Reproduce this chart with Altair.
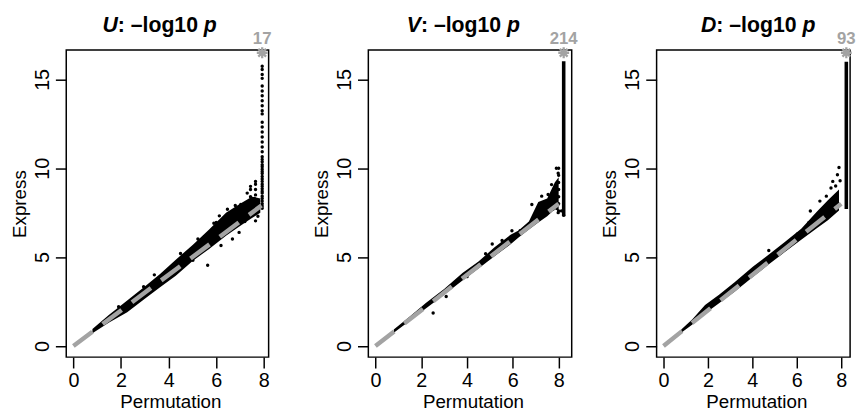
import altair as alt
import pandas as pd

FONT = "Liberation Sans"
GREY = "#a3a3a3"

PANELS = ["U", "V", "D"]
COUNTS = [17, 214, 93]
STAR_X = [7.93, 8.22, 8.23]
STAR_Y = [16.5, 16.5, 16.5]
DIAG_END = [7.9, 8.0, 8.0]

X_TICKS = [0, 2, 4, 6, 8]
Y_TICKS = [0, 5, 10, 15]

# dense core of each point cloud: lower / upper envelope
U_BAND_X = [0.8, 1.5, 2.26, 3.0, 3.64, 4.3, 5.02, 5.7, 6.41, 7.0, 7.5, 7.85]
U_BAND_LO = [0.72, 1.32, 1.9, 2.65, 3.3, 3.95, 4.8, 5.45, 6.2, 6.75, 7.2, 7.5]
U_BAND_HI = [0.95, 1.75, 2.55, 3.35, 4.05, 4.85, 5.7, 6.55, 7.5, 8.0, 8.4, 8.3]

V_BAND_X = [0.8, 1.5, 2.2, 3.0, 3.8, 4.5, 5.2, 5.9, 6.25, 6.7, 7.11, 7.5, 7.83, 8.0]
V_BAND_LO = [0.74, 1.42, 2.1, 2.88, 3.68, 4.36, 5.05, 5.72, 6.1, 6.55, 6.94, 7.3, 7.69, 7.6]
V_BAND_HI = [0.92, 1.65, 2.42, 3.2, 4.1, 4.75, 5.55, 6.25, 6.5, 7.0, 8.1, 8.3, 9.2, 9.5]

D_BAND_X = [0.8, 1.3, 1.87, 2.5, 3.2, 4.02, 4.7, 5.46, 6.2, 6.9, 7.4, 7.9]
D_BAND_LO = [0.74, 1.2, 1.82, 2.4, 3.05, 3.88, 4.55, 5.28, 5.98, 6.62, 7.08, 7.62]
D_BAND_HI = [0.93, 1.5, 2.3, 2.88, 3.58, 4.45, 5.1, 5.85, 6.6, 7.55, 8.2, 8.8]

# scattered points around the core
U_PX = [5.64, 7.44, 7.65, 7.03, 6.96, 7.65, 6.47, 6.13, 5.23, 2.95, 2.46, 3.92, 6.2,
        6.68, 5.02, 7.3, 7.6, 6.8, 4.5, 5.9, 3.4, 1.9, 7.2, 7.75, 6.0,
        7.65, 7.65, 7.65, 7.65, 7.65, 7.44, 7.44, 7.44]
U_PY = [4.54, 8.98, 9.26, 7.96, 6.39, 7.04, 7.69, 7.32, 6.02, 3.33, 2.6, 3.8, 5.65,
        6.02, 4.82, 8.6, 8.3, 7.9, 5.2, 6.9, 4.0, 2.2, 7.0, 7.3, 6.95,
        7.9, 8.2, 8.5, 8.8, 9.1, 8.0, 8.4, 8.8]
# vertical stack of the U panel at the permutation limit
U_COL_X = 7.93
U_COL_Y = [15.74, 15.56, 15.28, 15.06, 14.63, 14.35, 14.08, 13.8, 13.52, 13.24, 13.06,
           12.59, 12.32, 12.04, 11.76, 11.48, 11.2, 10.93, 10.65, 10.5, 10.37, 10.2,
           10.09, 9.95, 9.82, 9.7, 9.54, 9.4, 9.26, 9.1, 8.98, 8.85, 8.71, 8.6, 8.43,
           8.3, 8.15, 8.0, 7.87, 7.75]

V_PX = [7.9, 7.98, 7.69, 7.54, 7.26, 6.83, 7.12, 6.32, 5.96, 5.53, 5.1, 4.81, 4.0,
        3.64, 3.09, 2.52, 7.98, 7.76, 8.12, 8.22,
        8.0, 8.0, 8.0, 8.0, 8.0, 8.0, 8.0]
V_PY = [10.0, 9.72, 9.08, 8.52, 8.43, 7.96, 7.5, 6.48, 6.48, 5.93, 5.74, 5.19, 3.9,
        3.71, 2.78, 1.85, 7.5, 7.7, 7.6, 7.35,
        7.6, 8.0, 8.4, 8.8, 9.2, 9.6, 10.0]

D_PX = [7.9, 7.83, 7.62, 7.54, 7.33, 7.04, 6.61, 6.54, 6.03, 4.74, 4.17, 3.59, 2.87,
        2.23, 6.82, 7.75, 7.95]
D_PY = [10.04, 9.63, 9.26, 8.89, 8.43, 8.15, 7.59, 6.93, 6.3, 5.37, 4.44, 3.8, 2.97,
        2.41, 7.04, 9.0, 9.3]

# solid vertical stacks (V and D panels)
V_COL = [8.22, 7.3, 16.02]
D_COL = [8.23, 7.7, 16.0]

ASTERISK = "M-1,0L1,0M0,-1L0,1M-0.72,-0.72L0.72,0.72M-0.72,0.72L0.72,-0.72"

HEIGHT = 311
Y_DOMAIN = [-0.63, 16.65]


def make_panel(letter, count, star_x, star_y, diag_end, bx, blo, bhi, px, py,
               col, xdom, width, title_left, letter_w):
    xs = alt.Scale(domain=xdom, nice=False, zero=False)
    ys = alt.Scale(domain=Y_DOMAIN, nice=False, zero=False)
    x_axis = alt.Axis(values=X_TICKS, title="Permutation", titleX=width / 2 + 3,
                      titleY=51, titleBaseline="alphabetic",
                      titleAlign="center", labelPadding=3, labelFlush=False)
    y_axis = alt.Axis(values=Y_TICKS, title="Express", labelAngle=270,
                      labelAlign="center", labelBaseline="alphabetic",
                      labelPadding=7, titleAngle=270, titleX=-41.5,
                      titleY=HEIGHT / 2, titleBaseline="alphabetic",
                      titleAlign="center", labelFlush=False)

    def X(f):
        return alt.X(f, type="quantitative", scale=xs, axis=x_axis)

    def Y(f):
        return alt.Y(f, type="quantitative", scale=ys, axis=y_axis)

    band = pd.DataFrame({"x": bx, "lo": blo, "hi": bhi})
    pts = pd.DataFrame({"x": px, "y": py})
    diag = pd.DataFrame({"x": [0, diag_end], "y": [0, diag_end]})
    star = pd.DataFrame({"x": [star_x], "y": [star_y], "n": [str(count)]})

    layers = [
        alt.Chart(band).mark_area(color="black", opacity=1).encode(
            x=X("x"), y=Y("lo"), y2="hi"),
        alt.Chart(pts).mark_circle(size=12, color="black", opacity=1).encode(
            x=X("x"), y=Y("y")),
    ]
    if col is not None:
        cdf = pd.DataFrame({"x": [col[0]], "lo": [col[1]], "hi": [col[2]]})
        layers.append(alt.Chart(cdf).mark_rule(color="black", strokeWidth=3.6).encode(
            x=X("x"), y=Y("lo"), y2="hi"))
    layers += [
        alt.Chart(diag).mark_line(color=GREY, strokeWidth=4.5, strokeDash=[24, 13],
                                  strokeCap="butt").encode(x=X("x"), y=Y("y")),
        alt.Chart(star).mark_point(shape=ASTERISK, size=120, filled=False, color=GREY,
                                   strokeWidth=2.3, opacity=1).encode(x=X("x"), y=Y("y")),
        alt.Chart(star).mark_text(font=FONT, fontSize=17, fontWeight="bold", color=GREY,
                                  dy=-9, baseline="alphabetic", align="center").encode(
            x=X("x"), y=Y("y"), text="n:N"),
    ]
    one = pd.DataFrame({"a": [0]})
    mid_w = 87.2
    layers += [
        alt.Chart(one).mark_text(text=letter, font=FONT, fontSize=21.5, fontWeight="bold",
                                 fontStyle="italic", align="left", baseline="alphabetic",
                                 color="black").encode(x=alt.value(title_left), y=alt.value(-18.5)),
        alt.Chart(one).mark_text(text=": \u2013log10", font=FONT, fontSize=21.5,
                                 fontWeight="bold", align="left", baseline="alphabetic",
                                 color="black").encode(x=alt.value(title_left + letter_w),
                                                       y=alt.value(-18.5)),
        alt.Chart(one).mark_text(text="p", font=FONT, fontSize=21.5, fontWeight="bold",
                                 fontStyle="italic", align="left", baseline="alphabetic",
                                 color="black").encode(x=alt.value(title_left + letter_w + mid_w),
                                                       y=alt.value(-18.5)),
    ]
    return alt.layer(*layers).properties(width=width, height=HEIGHT)


p1 = make_panel(PANELS[0], COUNTS[0], STAR_X[0], STAR_Y[0], DIAG_END[0],
                U_BAND_X, U_BAND_LO, U_BAND_HI,
                U_PX + [U_COL_X] * len(U_COL_Y), U_PY + U_COL_Y,
                None, [-0.3, 8.2], 205, 36.7, 15.5)
p2 = make_panel(PANELS[1], COUNTS[1], STAR_X[1], STAR_Y[1], DIAG_END[1],
                V_BAND_X, V_BAND_LO, V_BAND_HI, V_PX, V_PY,
                V_COL, [-0.31, 8.57], 206, 39, 14.3)
p3 = make_panel(PANELS[2], COUNTS[2], STAR_X[2], STAR_Y[2], DIAG_END[2],
                D_BAND_X, D_BAND_LO, D_BAND_HI, D_PX, D_PY,
                D_COL, [-0.31, 8.40], 196, 45, 15.5)

inner = alt.hconcat(p2, p3, spacing=86, bounds="flush")
chart = alt.hconcat(p1, inner, spacing=101, bounds="flush").properties(
    padding={"left": 1, "top": 3, "right": 0, "bottom": 0},
    background="white",
).configure_view(
    stroke="black", strokeWidth=1.5
).configure_axis(
    domain=False, grid=False, ticks=True, tickColor="black", tickWidth=1.5,
    tickSize=11, labelFont=FONT, titleFont=FONT, labelFontSize=20, titleFontSize=19,
    labelColor="black", titleColor="black", titleFontWeight="normal",
    labelOverlap=False
)

chart.save("out.html", embed_options={"renderer": "svg", "actions": False})
